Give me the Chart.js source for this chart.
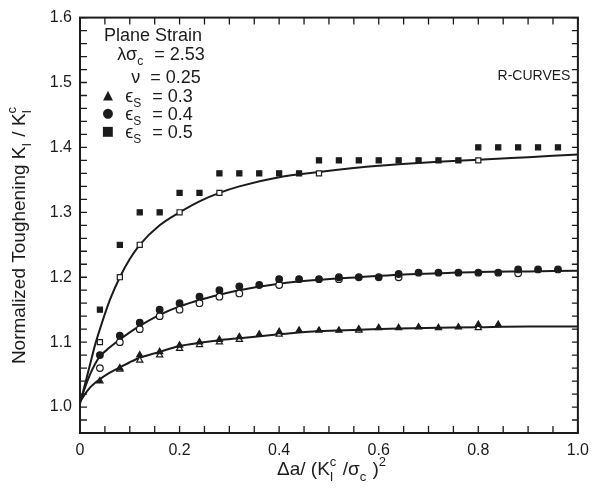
<!DOCTYPE html>
<html>
<head>
<meta charset="utf-8">
<script src="https://cdn.jsdelivr.net/npm/chart.js@4.4.0/dist/chart.umd.min.js"></script>
<style>
  html, body { margin: 0; padding: 0; background: #fff; }
</style>
</head>
<body>
<canvas id="rcurves" width="597" height="488"></canvas>
<script>
// R-curve data
const sqFilledX = [0.04, 0.08, 0.12, 0.16, 0.20, 0.24, 0.28, 0.32, 0.36, 0.40, 0.44, 0.48, 0.52, 0.56, 0.60, 0.64, 0.68, 0.72, 0.76, 0.80, 0.84, 0.88, 0.92, 0.96];
const sqFilledY = [1.15, 1.25, 1.30, 1.30, 1.33, 1.33, 1.36, 1.36, 1.36, 1.36, 1.36, 1.38, 1.38, 1.38, 1.38, 1.38, 1.38, 1.38, 1.38, 1.40, 1.40, 1.40, 1.40, 1.40];
const sqOpenX = [0.04, 0.08, 0.12, 0.20, 0.28, 0.48, 0.80];
const sqOpenY = [1.10, 1.20, 1.25, 1.30, 1.33, 1.36, 1.38];

const circFilledX = [0.04, 0.08, 0.12, 0.16, 0.20, 0.24, 0.28, 0.32, 0.36, 0.40, 0.44, 0.48, 0.52, 0.56, 0.60, 0.64, 0.68, 0.72, 0.76, 0.80, 0.84, 0.88, 0.92, 0.96];
const circFilledY = [1.08, 1.11, 1.13, 1.15, 1.16, 1.17, 1.18, 1.186, 1.188, 1.197, 1.197, 1.197, 1.20, 1.20, 1.20, 1.205, 1.207, 1.207, 1.207, 1.207, 1.207, 1.212, 1.212, 1.212];
const circOpenX = [0.04, 0.08, 0.12, 0.16, 0.20, 0.24, 0.28, 0.32, 0.40, 0.52, 0.64, 0.88];
const circOpenY = [1.06, 1.10, 1.12, 1.14, 1.15, 1.16, 1.17, 1.175, 1.188, 1.197, 1.20, 1.206];

const triFilledX = [0.04, 0.08, 0.12, 0.16, 0.20, 0.24, 0.28, 0.32, 0.36, 0.40, 0.44, 0.48, 0.52, 0.56, 0.60, 0.64, 0.68, 0.72, 0.76, 0.80, 0.84];
const triFilledY = [1.04, 1.06, 1.08, 1.085, 1.095, 1.10, 1.104, 1.108, 1.112, 1.116, 1.118, 1.118, 1.118, 1.12, 1.122, 1.122, 1.123, 1.122, 1.123, 1.127, 1.127];
const triOpenX = [0.08, 0.12, 0.16, 0.20, 0.24, 0.28, 0.32, 0.40, 0.56, 0.80];
const triOpenY = [1.058, 1.072, 1.08, 1.09, 1.096, 1.10, 1.104, 1.112, 1.118, 1.122];

// fitted curves
const curveX = [0, 0.01, 0.02, 0.03, 0.04, 0.06, 0.08, 0.10, 0.12, 0.16, 0.20, 0.24, 0.28, 0.32, 0.40, 0.48, 0.56, 0.64, 0.72, 0.80, 0.90, 1.0];
const curveTopY = [1.005, 1.035, 1.065, 1.095, 1.12, 1.165, 1.20, 1.228, 1.25, 1.28, 1.30, 1.317, 1.33, 1.34, 1.354, 1.362, 1.369, 1.374, 1.378, 1.381, 1.385, 1.389];
const curveMidY = [1.008, 1.03, 1.05, 1.066, 1.078, 1.092, 1.104, 1.115, 1.125, 1.142, 1.155, 1.165, 1.173, 1.18, 1.19, 1.196, 1.20, 1.204, 1.206, 1.208, 1.209, 1.21];
const curveLowY = [1.008, 1.02, 1.03, 1.037, 1.043, 1.053, 1.061, 1.069, 1.076, 1.085, 1.094, 1.099, 1.103, 1.106, 1.112, 1.117, 1.119, 1.121, 1.122, 1.123, 1.124, 1.124];

const xTickLabels = { 0: "0", 0.2: "0.2", 0.4: "0.4", 0.6: "0.6", 0.8: "0.8", 1: "1.0" };

const ink = "#1b1b1b";
const fontFamily = "'Liberation Sans', Arial, sans-serif";

function pts(xs, ys) {
  return xs.map((x, i) => ({ x: x, y: ys[i] }));
}

function curve(ys) {
  return {
    type: "line",
    data: pts(curveX, ys),
    borderColor: ink,
    borderWidth: 2,
    pointRadius: 0,
    cubicInterpolationMode: "monotone",
    fill: false,
    order: 2,
  };
}

function markers(xs, ys, style, filled, radius) {
  return {
    type: "scatter",
    data: pts(xs, ys),
    pointStyle: style,
    pointRadius: radius,
    pointBackgroundColor: filled ? ink : "#fff",
    pointBorderColor: ink,
    pointBorderWidth: 1.2,
    order: 1,
  };
}

// draws text with sub/superscripts; parts = [text] or [{sub, sup}]
function richText(ctx, parts, cx, y, size) {
  const small = Math.round(size * 0.68);
  const measure = (p) => {
    if (typeof p === "string") {
      ctx.font = size + "px " + fontFamily;
      return ctx.measureText(p).width;
    }
    ctx.font = small + "px " + fontFamily;
    return Math.max(ctx.measureText(p.sub || "").width, ctx.measureText(p.sup || "").width) + 1;
  };
  const total = parts.reduce((w, p) => w + measure(p), 0);
  let x = cx - total / 2;
  ctx.textAlign = "left";
  ctx.textBaseline = "alphabetic";
  parts.forEach((p) => {
    const w = measure(p);
    if (typeof p === "string") {
      ctx.font = size + "px " + fontFamily;
      ctx.fillText(p, x, y);
    } else {
      ctx.font = small + "px " + fontFamily;
      if (p.sup) ctx.fillText(p.sup, x, y - size * 0.45);
      if (p.sub) ctx.fillText(p.sub, x, y + size * 0.3);
    }
    x += w;
  });
}

const decorations = {
  id: "decorations",
  afterDraw(chart) {
    const { ctx, chartArea: a, scales } = chart;
    ctx.save();
    ctx.strokeStyle = ink;
    ctx.fillStyle = ink;

    // inward ticks on all four sides
    ctx.lineWidth = 1.3;
    ctx.beginPath();
    scales.x.ticks.forEach((t) => {
      const px = scales.x.getPixelForValue(t.value);
      ctx.moveTo(px, a.bottom);
      ctx.lineTo(px, a.bottom - 7);
      ctx.moveTo(px, a.top);
      ctx.lineTo(px, a.top + 7);
    });
    scales.y.ticks.forEach((t) => {
      const py = scales.y.getPixelForValue(t.value);
      ctx.moveTo(a.left, py);
      ctx.lineTo(a.left + 7, py);
      ctx.moveTo(a.right, py);
      ctx.lineTo(a.right - 6, py);
    });
    ctx.stroke();

    // frame
    ctx.lineWidth = 2;
    ctx.strokeRect(a.left, a.top, a.right - a.left, a.bottom - a.top);

    // axis titles
    richText(ctx, ["\u0394a/ (K", { sub: "I", sup: "c" }, " /\u03c3", { sub: "c" }, " )", { sup: "2" }], 332, 475, 19);
    ctx.save();
    ctx.translate(25, 235);
    ctx.rotate(-Math.PI / 2);
    richText(ctx, ["Normalized Toughening K", { sub: "I" }, " / K", { sub: "I", sup: "c" }], 0, 0, 19);
    ctx.restore();

    // parameter block
    ctx.font = "18px " + fontFamily;
    ctx.textAlign = "left";
    ctx.textBaseline = "middle";
    ctx.fillText("Plane Strain", 104, 36);
    richText(ctx, ["\u03bb\u03c3", { sub: "c" }, "  = 2.53"], 161, 60, 18);
    richText(ctx, ["\u03bd  = 0.25"], 166, 83, 18);
    const rows = [["\u25b2", "0.3", 96], ["\u25cf", "0.4", 114], ["\u25a0", "0.5", 132]];
    rows.forEach((r) => {
      ctx.font = "13px 'DejaVu Sans', sans-serif";
      ctx.textAlign = "center";
      ctx.textBaseline = "middle";
      ctx.fillText(r[0], 108, r[2]);
      richText(ctx, ["\u03f5", { sub: "S" }, "  = " + r[1]], 159, r[2] + 6, 18);
    });

    ctx.font = "14px " + fontFamily;
    ctx.textAlign = "center";
    ctx.textBaseline = "middle";
    ctx.fillText("R-CURVES", 534, 76);
    ctx.restore();
  },
};

const ctx = document.getElementById("rcurves").getContext("2d");
const rChart = new Chart(ctx, {
  type: "scatter",
  data: {
    datasets: [
      curve(curveTopY),
      curve(curveMidY),
      curve(curveLowY),
      markers(sqFilledX, sqFilledY, "rect", true, 3.6),
      markers(sqOpenX, sqOpenY, "rect", false, 3.6),
      markers(circFilledX, circFilledY, "circle", true, 3.3),
      markers(circOpenX, circOpenY, "circle", false, 3.3),
      markers(triFilledX, triFilledY, "triangle", true, 3.6),
      markers(triOpenX, triOpenY, "triangle", false, 3.6),
    ],
  },
  options: {
    responsive: false,
    animation: false,
    layout: { padding: { top: 12, right: 12, left: 0, bottom: 0 } },
    plugins: { legend: { display: false }, tooltip: { enabled: false } },
    scales: {
      x: {
        type: "linear",
        min: 0,
        max: 1,
        grid: { display: false, drawTicks: false },
        border: { display: false },
        afterFit: (s) => { s.height = 55; },
        ticks: {
          stepSize: 0.05,
          autoSkip: false,
          maxRotation: 0,
          padding: 8,
          color: ink,
          font: { family: fontFamily, size: 16 },
          callback: (v) => {
            const k = Math.round(v * 10) / 10;
            return Math.abs(v - k) < 1e-6 && xTickLabels[k] !== undefined ? xTickLabels[k] : "";
          },
        },
      },
      y: {
        type: "linear",
        min: 0.96,
        max: 1.6,
        grid: { display: false, drawTicks: false },
        border: { display: false },
        afterFit: (s) => { s.width = 80; },
        ticks: {
          stepSize: 0.02,
          autoSkip: false,
          padding: 8,
          color: ink,
          font: { family: fontFamily, size: 16 },
          callback: (v) => {
            const k = Math.round(v * 10) / 10;
            return Math.abs(v - k) < 1e-6 && k >= 1 ? k.toFixed(1) : "";
          },
        },
      },
    },
  },
  plugins: [decorations],
});
</script>
</body>
</html>
